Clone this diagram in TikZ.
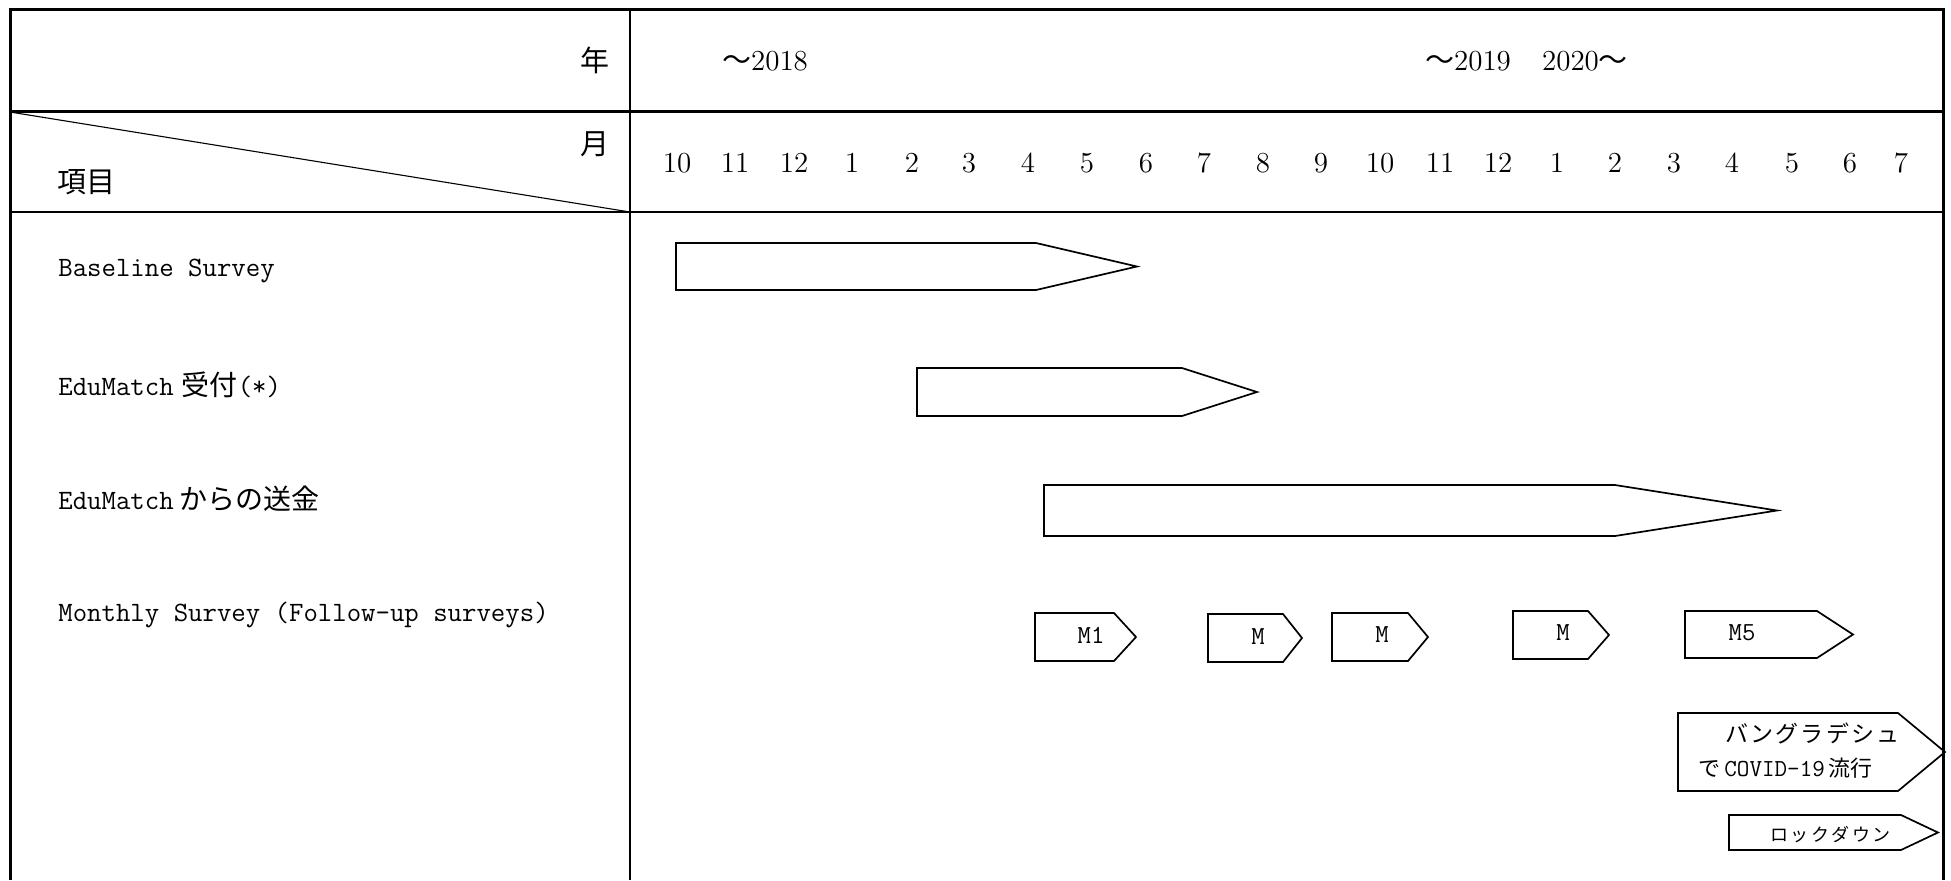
\documentclass[tikz,border=0pt]{standalone}
\usepackage{fontspec}
\newfontfamily\jp{Noto Sans CJK JP}
\newcommand\pentbar[5]{\draw[bar] (#1,#4) -- (#2,#4) -- (#3,{(#4+#5)/2}) -- (#2,#5) -- (#1,#5) -- cycle;}
\begin{document}
\begin{tikzpicture}[x=0.5pt,y=-0.5pt,
  frameline/.style={line width=1.5pt},
  thinline/.style={line width=0.55pt},
  bar/.style={draw, line width=0.85pt, fill=white},
  hdr/.style={font=\fontsize{14.5}{16}\selectfont, inner sep=0pt},
  lbl/.style={anchor=west, font=\fontsize{14}{16}\selectfont\ttfamily, inner sep=0pt},
  mtxt/.style={font=\fontsize{13}{15}\selectfont\ttfamily, inner sep=0pt},
  btxt/.style={anchor=west, inner sep=0pt}]
\useasboundingbox (0,0) rectangle (1951,880);
% grid lines
\draw[thinline] (630,10) -- (630,880);
\draw[thinline] (10,212) -- (1943,212);
\draw[thinline] (10,112) -- (630,212);
% header texts
\node[hdr] (nen) at (595,60) {\jp 年};
\node[hdr] (tsuki) at (595,144) {\jp 月};
\node[hdr] (koumoku) at (86,182) {\jp 項目};
\node[hdr] (y2018) at (765,61) {{\jp ～}2018};
\node[hdr] (y2019) at (1468,61) {{\jp ～}2019};
\node[hdr] (y2020) at (1585,61) {2020{\jp ～}};
\foreach \x/\m [count=\i] in {677/10,735/11,794/12,852/1,912/2,969/3,1028/4,1087/5,1146/6,1204/7,1263/8,1321/9,1380/10,1440/11,1498/12,1557/1,1615/2,1674/3,1732/4,1792/5,1850/6,1901/7}
  \node[hdr] (m\i) at (\x,163) {\m};
% row labels
\node[lbl] (r1) at (58,271) {Baseline Survey};
\node[lbl] (r2) at (58,385) {EduMatch\hspace{4pt}{\jp 受付}(*)};
\node[lbl] (r3) at (58,499) {EduMatch\hspace{3pt}{\jp からの送金}};
\node[lbl] (r4) at (58,615) {Monthly Survey (Follow-up surveys)};
% bars
\pentbar{676}{1036}{1137}{243}{290}
\pentbar{917}{1182}{1257}{368}{416}
\pentbar{1044}{1615}{1777}{485}{536}
\pentbar{1035}{1114}{1136}{613}{661}
\pentbar{1208}{1283}{1302}{614}{662}
\pentbar{1332}{1408}{1428}{613}{661}
\pentbar{1513}{1588}{1609}{611}{659}
\pentbar{1685}{1817}{1853}{611}{658}
\pentbar{1678}{1898}{1945}{713}{791}
\pentbar{1729}{1901}{1938}{815}{850}
% bar texts
\node[mtxt] (M1) at (1091,635) {M1};
\node[mtxt] (M2) at (1258,637) {M};
\node[mtxt] (M3) at (1382,635) {M};
\node[mtxt] (M4) at (1563,633) {M};
\node[mtxt] (M5) at (1742,633) {M5};
\node[btxt, font=\fontsize{11.5}{13}\selectfont\jp] (bd1) at (1725,733)
  {\makebox[87pt][s]{バ\hfill ン\hfill グ\hfill ラ\hfill デ\hfill シ\hfill ュ}};
\node[btxt, font=\fontsize{11}{13}\selectfont] (bd2) at (1698,768)
  {{\jp で}\hspace{2pt}{\ttfamily\fontsize{12.2}{13}\selectfont COVID-19}\hspace{2pt}{\jp 流行}};
\node[btxt, font=\fontsize{9}{11}\selectfont\jp] (lock) at (1770,835)
  {\makebox[60pt][s]{ロ\hfill ッ\hfill ク\hfill ダ\hfill ウ\hfill ン}};
% frame
\draw[frameline] (10,880) -- (10,9.5) -- (1943,9.5) -- (1943,880);
\draw[frameline] (10,111) -- (1943,111);
\end{tikzpicture}
\end{document}
